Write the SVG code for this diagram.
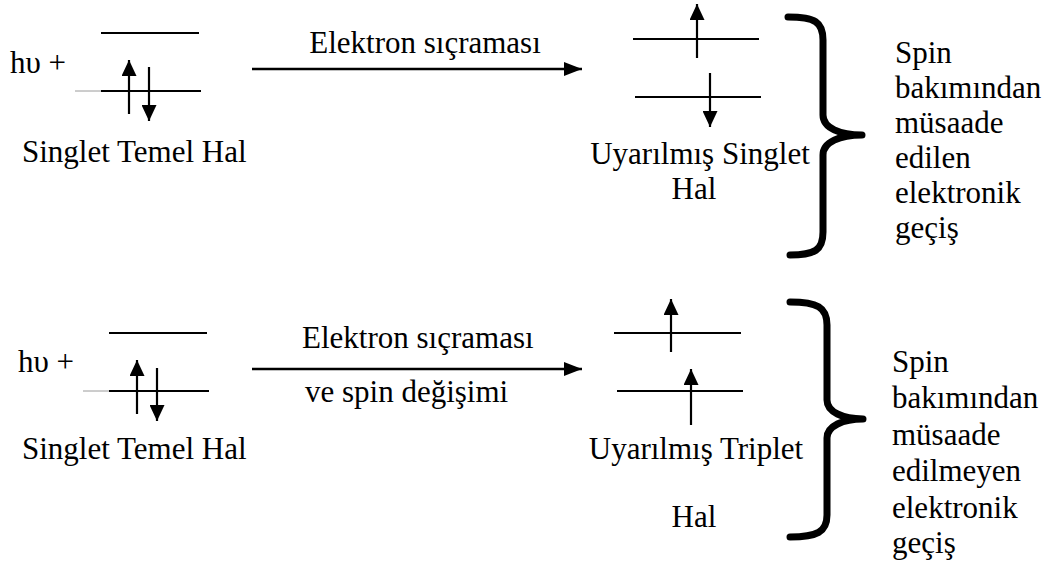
<svg xmlns="http://www.w3.org/2000/svg" width="1057" height="577" viewBox="0 0 1057 577" font-family="'Liberation Serif', 'Times New Roman', serif">
  <defs>
    <style>
      text { font-family: "Liberation Serif", "Times New Roman", serif; font-size: 31px; fill: #000; }
      .lvl { stroke: #000; stroke-width: 2; fill: none; }
      .stub { stroke: #9a9a9a; stroke-width: 1; fill: none; }
      .spin { stroke: #000; stroke-width: 2.2; fill: none; marker-end: url(#spinHead); }
      .jump { stroke: #000; stroke-width: 2.5; fill: none; marker-end: url(#jumpHead); }
      .brace { stroke: #000; stroke-width: 7; fill: none; stroke-linecap: round; stroke-linejoin: round; }
    </style>
    <marker id="spinHead" markerUnits="userSpaceOnUse" viewBox="0 0 16 15" refX="16" refY="7.5" markerWidth="16" markerHeight="15" orient="auto">
      <path d="M0,0 L16,7.5 L0,15 Z" fill="#000"/>
    </marker>
    <marker id="jumpHead" markerUnits="userSpaceOnUse" viewBox="0 0 18 14" refX="18" refY="7" markerWidth="18" markerHeight="14" orient="auto">
      <path d="M0,0 L18,7 L0,14 Z" fill="#000"/>
    </marker>
  </defs>

  <!-- Upper row: allowed transition -->
  <g id="ground-singlet-1">
    <text x="10" y="73">hυ +</text>
    <line class="lvl" x1="101" y1="33" x2="199" y2="33"/>
    <line class="stub" x1="75" y1="91" x2="101" y2="91"/>
    <line class="lvl" x1="101" y1="91" x2="201" y2="91"/>
    <line class="spin" x1="129" y1="114" x2="129" y2="60"/>
    <line class="spin" x1="149" y1="67" x2="149" y2="121"/>
    <text x="22" y="162">Singlet Temel Hal</text>
  </g>

  <g id="excited-singlet">
    <line class="lvl" x1="633" y1="39" x2="759" y2="39"/>
    <line class="lvl" x1="635" y1="97" x2="761" y2="97"/>
    <line class="spin" x1="697" y1="58" x2="697" y2="4"/>
    <line class="spin" x1="710" y1="73" x2="710" y2="127"/>
    <text x="700" y="164" text-anchor="middle">Uyarılmış Singlet</text>
    <text x="694" y="199" text-anchor="middle">Hal</text>
  </g>

  <g id="allowed-note">
    <path class="brace" d="M788,17 C815,17 823,22 823,40 L823,115 C823,128 840,135 862,135 C840,135 823,142 823,155 L823,232 C823,250 815,255 790,255"/>
    <text x="895" y="63">Spin</text>
    <text x="895" y="98">bakımından</text>
    <text x="895" y="133">müsaade</text>
    <text x="895" y="168">edilen</text>
    <text x="895" y="203">elektronik</text>
    <text x="895" y="238">geçiş</text>
  </g>

  <!-- Lower row: spin-forbidden transition -->
  <g id="ground-singlet-2">
    <text x="18" y="372">hυ +</text>
    <line class="lvl" x1="109" y1="333" x2="207" y2="333"/>
    <line class="stub" x1="83" y1="391" x2="109" y2="391"/>
    <line class="lvl" x1="109" y1="391" x2="209" y2="391"/>
    <line class="spin" x1="137" y1="414" x2="137" y2="360"/>
    <line class="spin" x1="157" y1="368" x2="157" y2="421"/>
    <text x="22" y="459">Singlet Temel Hal</text>
  </g>

  <g id="excited-triplet">
    <line class="lvl" x1="614" y1="333" x2="741" y2="333"/>
    <line class="lvl" x1="617" y1="391" x2="743" y2="391"/>
    <line class="spin" x1="671" y1="352" x2="671" y2="299"/>
    <line class="spin" x1="691" y1="425" x2="691" y2="369"/>
    <text x="696" y="459" text-anchor="middle">Uyarılmış Triplet</text>
    <text x="694" y="527" text-anchor="middle">Hal</text>
  </g>

  <g id="forbidden-note">
    <path class="brace" d="M790,302 C817,302 827,307 827,325 L827,400 C827,412 843,419 863,419 C843,419 827,426 827,438 L827,515 C827,532 817,537 790,537"/>
    <text x="892" y="372">Spin</text>
    <text x="892" y="408">bakımından</text>
    <text x="892" y="445">müsaade</text>
    <text x="892" y="481">edilmeyen</text>
    <text x="892" y="518">elektronik</text>
    <text x="892" y="553">geçiş</text>
  </g>

  <!-- Transition arrows with their labels -->
  <g id="connectors">
    <line class="jump" x1="252" y1="69" x2="582" y2="69"/>
    <text x="425" y="53" text-anchor="middle">Elektron sıçraması</text>
    <line class="jump" x1="252" y1="369" x2="582" y2="369"/>
    <text x="302" y="348">Elektron sıçraması</text>
    <text x="305" y="402">ve spin değişimi</text>
  </g>
</svg>
